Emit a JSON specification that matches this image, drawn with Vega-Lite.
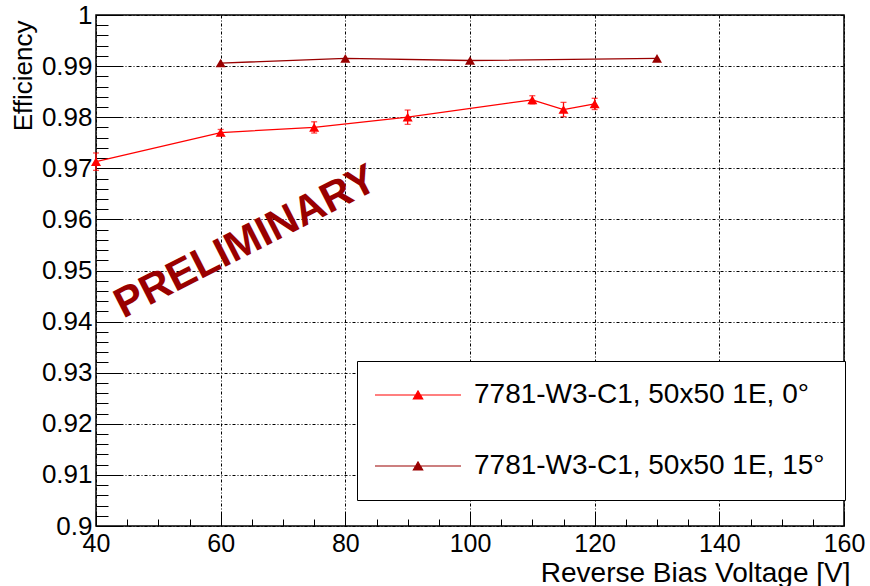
{
  "$schema": "https://vega.github.io/schema/vega-lite/v6.json",
  "width": 748,
  "height": 511,
  "autosize": {"type": "none"},
  "padding": {"left": 96, "top": 15, "right": 26, "bottom": 60},
  "background": "white",
  "config": {
    "view": {"stroke": "black", "strokeWidth": 1.5},
    "font": "Liberation Sans",
    "axis": {
      "domain": false,
      "tickColor": "black",
      "tickWidth": 1,
      "gridColor": "black",
      "gridDash": [3, 2, 1, 2],
      "gridWidth": 1,
      "labelColor": "black",
      "titleColor": "black",
      "labelFont": "Liberation Sans",
      "titleFont": "Liberation Sans",
      "titleFontWeight": "normal",
      "labelOverlap": false,
      "labelFlush": false
    },
    "legend": {
      "title": null,
      "orient": "none",
      "legendX": 261,
      "legendY": 346,
      "direction": "vertical",
      "padding": 20,
      "rowPadding": 43,
      "fillColor": "white",
      "strokeColor": "black",
      "symbolType": "M -4.3 0 L 4.3 0 M -0.47 0.4 L 0 -0.4 L 0.47 0.4 Z",
      "symbolSize": 400,
      "symbolStrokeWidth": 1.2,
      "symbolOffset": 27,
      "labelOffset": 42,
      "labelFont": "Liberation Sans",
      "labelFontSize": 28,
      "labelColor": "black",
      "labelLimit": 600
    }
  },
  "datasets": {
    "eff": [
      {"series": "7781-W3-C1, 50x50 1E, 0°", "V": 40, "eff": 0.9713, "lo": 0.9696, "hi": 0.9730},
      {"series": "7781-W3-C1, 50x50 1E, 0°", "V": 60, "eff": 0.9770, "lo": 0.9764, "hi": 0.9776},
      {"series": "7781-W3-C1, 50x50 1E, 0°", "V": 75, "eff": 0.9780, "lo": 0.9769, "hi": 0.9791},
      {"series": "7781-W3-C1, 50x50 1E, 0°", "V": 90, "eff": 0.9800, "lo": 0.9786, "hi": 0.9814},
      {"series": "7781-W3-C1, 50x50 1E, 0°", "V": 110, "eff": 0.9834, "lo": 0.9826, "hi": 0.9842},
      {"series": "7781-W3-C1, 50x50 1E, 0°", "V": 115, "eff": 0.9815, "lo": 0.9801, "hi": 0.9829},
      {"series": "7781-W3-C1, 50x50 1E, 0°", "V": 120, "eff": 0.9826, "lo": 0.9815, "hi": 0.9837},
      {"series": "7781-W3-C1, 50x50 1E, 15°", "V": 60, "eff": 0.9906},
      {"series": "7781-W3-C1, 50x50 1E, 15°", "V": 80, "eff": 0.9915},
      {"series": "7781-W3-C1, 50x50 1E, 15°", "V": 100, "eff": 0.9911},
      {"series": "7781-W3-C1, 50x50 1E, 15°", "V": 130, "eff": 0.9915}
    ],
    "stamp": [{"text": "PRELIMINARY", "V": 64, "eff": 0.9556}]
  },
  "data": {"name": "eff"},
  "encoding": {
    "x": {
      "field": "V",
      "type": "quantitative",
      "scale": {"domain": [40, 160], "nice": false, "zero": false},
      "axis": {
        "title": "Reverse Bias Voltage [V]",
        "titleFontSize": 28,
        "titleAlign": "right",
        "titleAnchor": null,
        "titleBaseline": "alphabetic",
        "titleX": 754,
        "titleY": 55,
        "values": [40, 45, 50, 55, 60, 65, 70, 75, 80, 85, 90, 95, 100, 105, 110, 115, 120, 125, 130, 135, 140, 145, 150, 155, 160],
        "labelExpr": "datum.value % 20 == 0 ? datum.label : ''",
        "labelFontSize": 25,
        "labelPadding": 19,
        "labelBaseline": "top",
        "tickSize": {"condition": {"test": "datum.value % 20 == 0", "value": -14}, "value": -7},
        "gridOpacity": {"condition": {"test": "datum.value % 20 == 0", "value": 1}, "value": 0}
      }
    },
    "y": {
      "field": "eff",
      "type": "quantitative",
      "title": "Efficiency",
      "scale": {"domain": [0.9, 1], "nice": false, "zero": false},
      "axis": {
        "title": "Efficiency",
        "titleFontSize": 26,
        "titleAngle": -90,
        "titleAlign": "right",
        "titleAnchor": null,
        "titleBaseline": "alphabetic",
        "titleX": -64.4,
        "titleY": 5,
        "values": [0.9, 0.902, 0.904, 0.906, 0.908, 0.91, 0.912, 0.914, 0.916, 0.918, 0.92, 0.922, 0.924, 0.926, 0.928, 0.93, 0.932, 0.934, 0.936, 0.938, 0.94, 0.942, 0.944, 0.946, 0.948, 0.95, 0.952, 0.954, 0.956, 0.958, 0.96, 0.962, 0.964, 0.966, 0.968, 0.97, 0.972, 0.974, 0.976, 0.978, 0.98, 0.982, 0.984, 0.986, 0.988, 0.99, 0.992, 0.994, 0.996, 0.998, 1],
        "labelExpr": "abs(datum.value*100 - round(datum.value*100)) < 0.001 ? format(datum.value, '~g') : ''",
        "labelFontSize": 26,
        "labelPadding": 29,
        "tickSize": {"condition": {"test": "abs(datum.value*100 - round(datum.value*100)) < 0.001", "value": -25}, "value": -12},
        "gridOpacity": {"condition": {"test": "abs(datum.value*100 - round(datum.value*100)) < 0.001", "value": 1}, "value": 0}
      }
    }
  },
  "layer": [
    {
      "transform": [{"filter": {"field": "series", "equal": "7781-W3-C1, 50x50 1E, 0°"}}],
      "mark": {"type": "errorbar", "color": "#ff0000", "thickness": 1.3, "ticks": {"size": 6, "thickness": 1.3, "color": "#ff0000"}},
      "encoding": {
        "y": {"field": "lo", "type": "quantitative", "title": "Efficiency"},
        "y2": {"field": "hi"}
      }
    },
    {
      "mark": {"type": "line", "strokeWidth": 1.3},
      "encoding": {
        "color": {
          "field": "series",
          "type": "nominal",
          "scale": {"domain": ["7781-W3-C1, 50x50 1E, 0°", "7781-W3-C1, 50x50 1E, 15°"], "range": ["#ff0000", "#990000"]}
        }
      }
    },
    {
      "mark": {"type": "point", "shape": "triangle-up", "filled": true, "size": 100, "opacity": 1},
      "encoding": {
        "color": {
          "field": "series",
          "type": "nominal",
          "scale": {"domain": ["7781-W3-C1, 50x50 1E, 0°", "7781-W3-C1, 50x50 1E, 15°"], "range": ["#ff0000", "#990000"]},
          "legend": {
            "encode": {
              "symbols": {
                "update": {
                  "fill": {"scale": "color", "field": "value"},
                  "stroke": {"scale": "color", "field": "value"},
                  "opacity": {"value": 1}
                }
              }
            }
          }
        }
      }
    },
    {
      "data": {"name": "stamp"},
      "mark": {"type": "text", "font": "Liberation Sans", "fontWeight": "bold", "fontSize": 42, "angle": -27, "align": "center", "baseline": "middle", "color": "#990000"},
      "encoding": {
        "text": {"field": "text", "type": "nominal"}
      }
    }
  ]
}
